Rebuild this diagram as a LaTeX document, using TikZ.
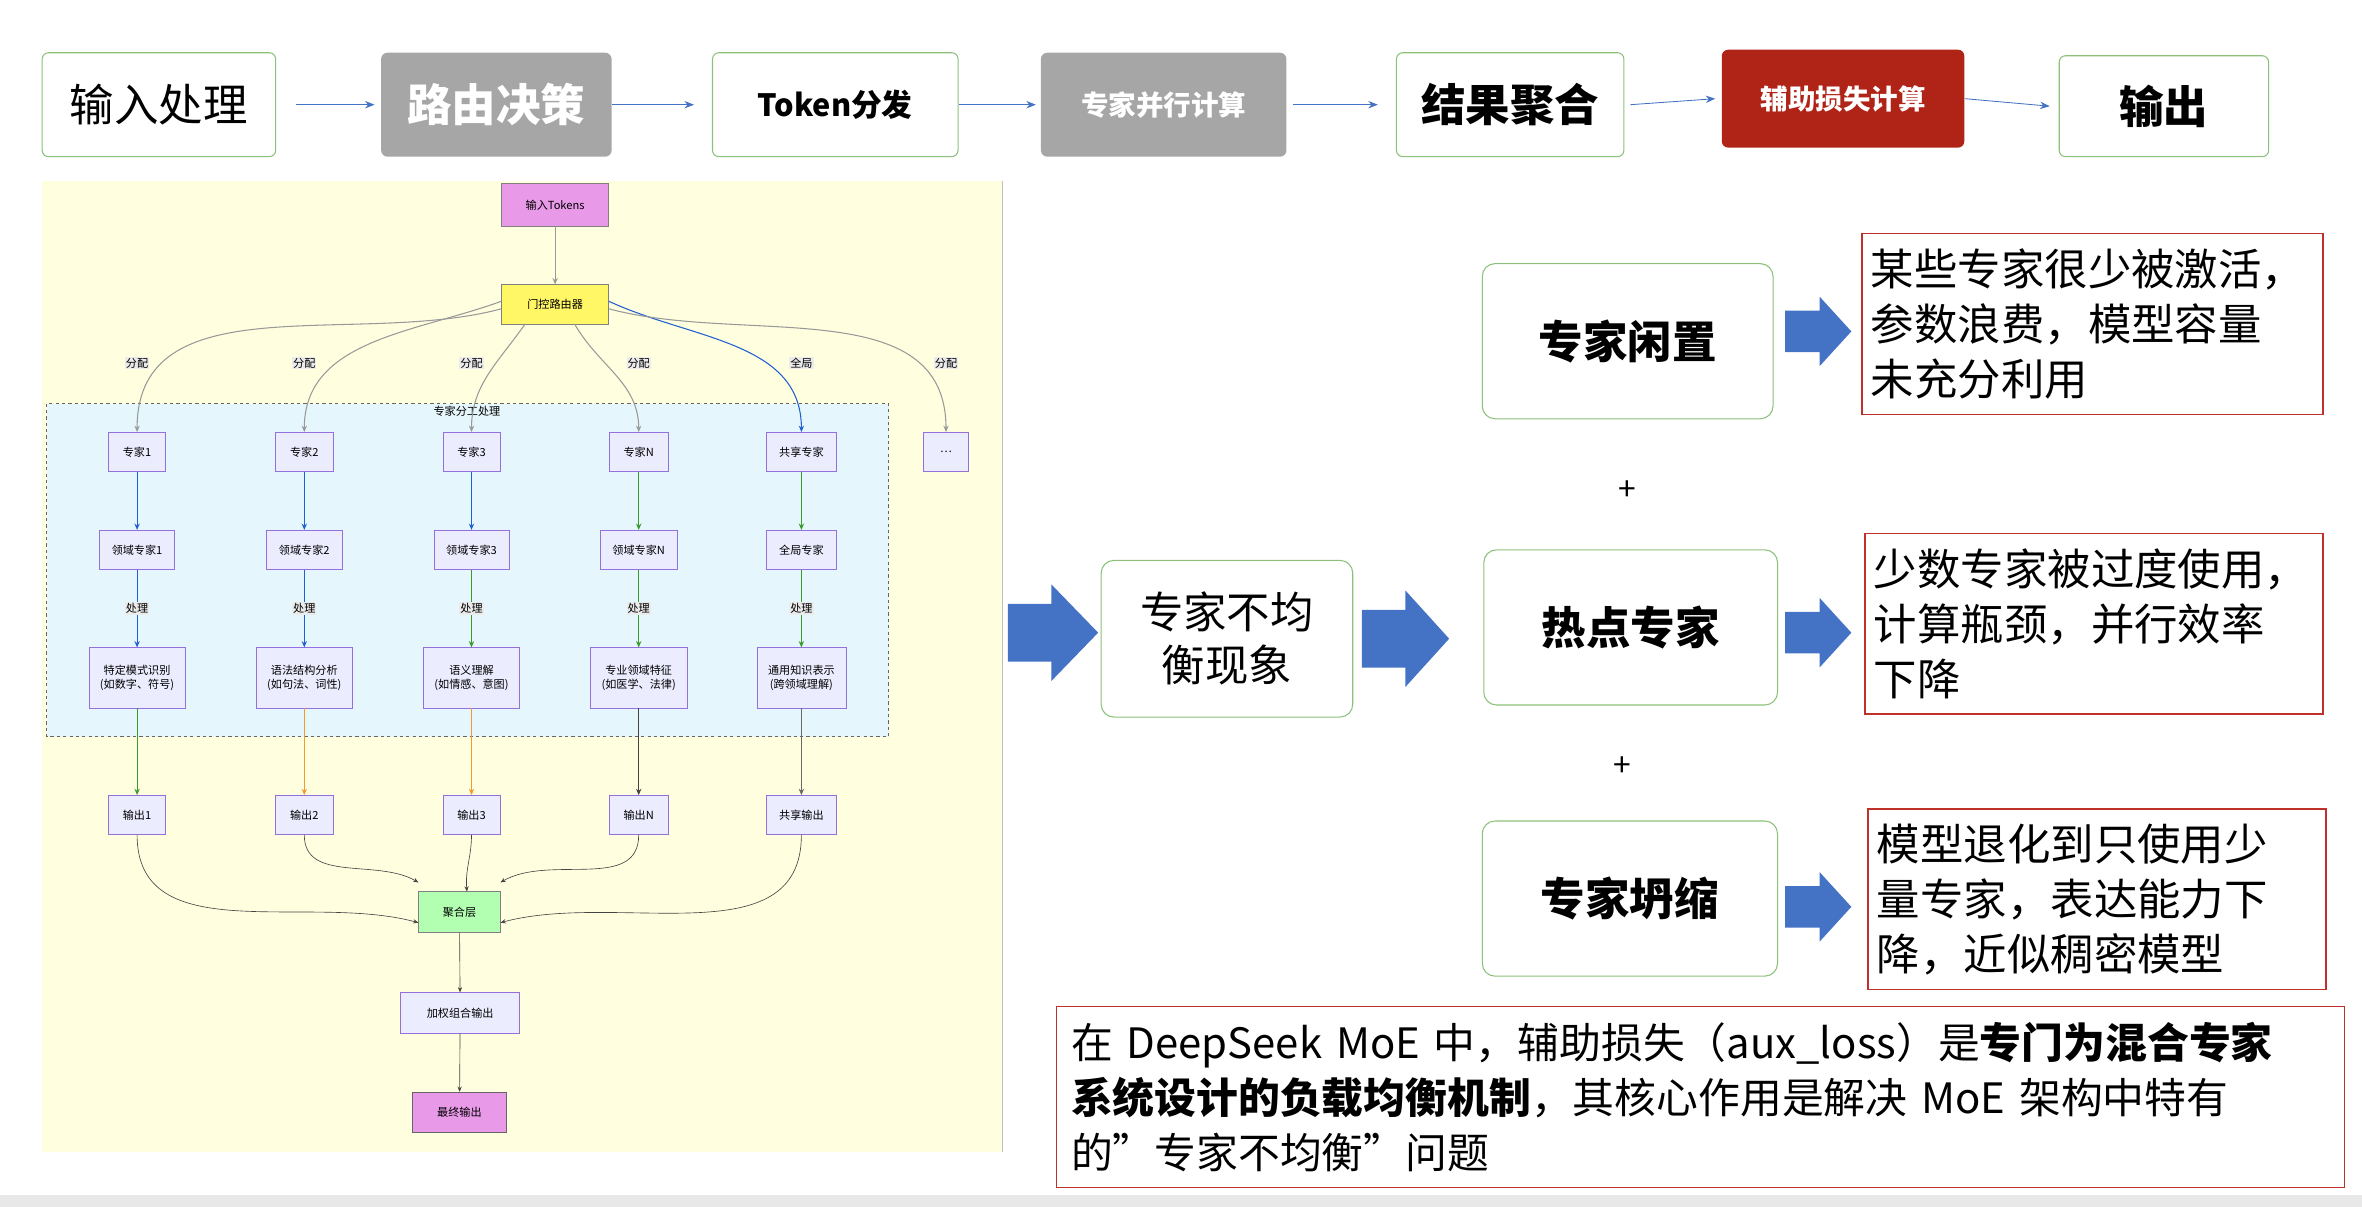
\documentclass[tikz,border=0pt]{standalone}
\usepackage{fontspec}
\setmainfont{Noto Sans CJK SC}
\usetikzlibrary{arrows.meta}
\definecolor{grn}{HTML}{8CC17A}
\definecolor{grayf}{HTML}{A6A6A6}
\definecolor{redf}{HTML}{B02418}
\definecolor{arr}{HTML}{4472C4}
\definecolor{yel}{HTML}{FFFFE0}
\definecolor{clus}{HTML}{E6F6FD}
\definecolor{nfill}{HTML}{ECECFF}
\definecolor{ndraw}{HTML}{9370DB}
\definecolor{eblue}{HTML}{2060D0}
\definecolor{egreen}{HTML}{3A9A2A}
\definecolor{eorange}{HTML}{F29A2E}
\definecolor{egray}{HTML}{999999}
\definecolor{edark}{HTML}{444444}
\definecolor{boxred}{HTML}{C0312B}
\newcommand{\bigarr}[5]{% x0 x1 xhead ycenter halfshaft/halfhead
  \fill[arr] (#1,#4-#5*0.6) -- (#3,#4-#5*0.6) -- (#3,#4-#5) -- (#2,#4) -- (#3,#4+#5) -- (#3,#4+#5*0.6) -- (#1,#4+#5*0.6) -- cycle;}
\begin{document}
\begin{tikzpicture}[x=0.05cm,y=-0.05cm,
  top/.style={draw=grn,line width=1pt,rounded corners=6pt,fill=white,inner sep=0pt},
  topg/.style={top,draw=none,fill=grayf,text=white},
  fn/.style={draw=ndraw,fill=nfill,line width=0.6pt,inner sep=0pt,font=\fontsize{10.5}{14}\selectfont,align=center},
  el/.style={fill=black!8,inner sep=1pt,font=\fontsize{10.5}{12}\selectfont},
  e/.style={line width=1pt,-{Stealth[length=6pt,width=5pt]}},
  tarr/.style={draw=arr,line width=0.8pt,-{Stealth[length=9pt,width=7pt]}},
  mid/.style={draw=grn,line width=1pt,rounded corners=12pt,fill=white,inner sep=0pt,font=\fontsize{42}{48}\selectfont\bfseries},
  rbox/.style={draw=boxred,line width=1.2pt,inner sep=0pt,fill=white,align=left,font=\fontsize{41}{52}\selectfont}]
\useasboundingbox (0,0) rectangle (1568,801);
\fill[black!9] (0,793) rectangle (1568,801);
% top row
\node[top,minimum width=155*0.05cm,minimum height=69*0.05cm,font=\fontsize{42}{42}\selectfont] (t1) at (105.5,69.5) {输入处理};
\node[topg,minimum width=153*0.05cm,minimum height=69*0.05cm,font=\fontsize{42}{42}\selectfont\bfseries] (t2) at (329.5,69.5) {路由决策};
\node[top,minimum width=163*0.05cm,minimum height=69*0.05cm,font=\fontsize{29}{29}\selectfont\bfseries] (t3) at (554.5,69.5) {Token分发};
\node[topg,minimum width=163*0.05cm,minimum height=69*0.05cm,font=\fontsize{26}{26}\selectfont\bfseries] (t4) at (772.5,69.5) {专家并行计算};
\node[top,minimum width=151*0.05cm,minimum height=69*0.05cm,font=\fontsize{42}{42}\selectfont\bfseries] (t5) at (1002.5,69.5) {结果聚合};
\node[topg,fill=redf,minimum width=161*0.05cm,minimum height=65*0.05cm,font=\fontsize{26}{26}\selectfont\bfseries] (t6) at (1223.5,65.5) {辅助损失计算};
\node[top,minimum width=139*0.05cm,minimum height=67*0.05cm,font=\fontsize{42}{42}\selectfont\bfseries] (t7) at (1436.5,70.5) {输出};
\draw[tarr] ([xshift=13*0.05cm]t1.east) -- ([xshift=-4*0.05cm]t2.west);
\draw[tarr] (t2.east) -- ([xshift=-12*0.05cm]t3.west);
\draw[tarr] (t3.east) -- ([xshift=-3*0.05cm]t4.west);
\draw[tarr] ([xshift=4*0.05cm]t4.east) -- ([xshift=-12*0.05cm]t5.west);
\draw[tarr] ([xshift=4*0.05cm]t5.east) -- ([xshift=-4*0.05cm]t6.west);
\draw[tarr] (t6.east) -- ([xshift=-6*0.05cm]t7.west);
% left panel
\fill[yel] (28,120) rectangle (665,765);
\draw[black!25] (665,120) -- (665,765);
\draw[dashed,fill=clus,draw=black!60,line width=0.6pt] (31,268) rectangle (590,489);
\node[font=\fontsize{10.5}{12}\selectfont] (cl) at (310,273) {专家分工处理};
\node[fn,fill=violet!45!magenta!40,draw=black!50,minimum width=71*0.05cm,minimum height=28*0.05cm] (in) at (368.5,136) {输入Tokens};
\node[fn,fill=yellow!60,draw=black!50,minimum width=71*0.05cm,minimum height=26*0.05cm] (gate) at (368.5,202) {门控路由器};
\foreach \n/\x/\t/\w in {e1/91/{专家1}/38,e2/202/{专家2}/38,e3/313/{专家3}/38,eN/424/{专家N}/39,es/532/{共享专家}/47,ed/628/{\ldots}/30}
  \node[fn,minimum width=\w*0.05cm,minimum height=26*0.05cm] (\n) at (\x,300) {\t};
\foreach \n/\x/\t/\w in {d1/91/{领域专家1}/50,d2/202/{领域专家2}/50,d3/313/{领域专家3}/50,dN/424/{领域专家N}/51,ds/532/{全局专家}/47}
  \node[fn,minimum width=\w*0.05cm,minimum height=26*0.05cm] (\n) at (\x,365) {\t};
\foreach \n/\x/\t/\w in {p1/91/{特定模式识别\\(如数字、符号)}/64,p2/202/{语法结构分析\\(如句法、词性)}/64,p3/313/{语义理解\\(如情感、意图)}/64,pN/424/{专业领域特征\\(如医学、法律)}/64,ps/532/{通用知识表示\\(跨领域理解)}/59}
  \node[fn,minimum width=\w*0.05cm,minimum height=40*0.05cm] (\n) at (\x,450) {\t};
\foreach \n/\x/\t/\w in {o1/91/{输出1}/38,o2/202/{输出2}/38,o3/313/{输出3}/38,oN/424/{输出N}/39,os/532/{共享输出}/47}
  \node[fn,minimum width=\w*0.05cm,minimum height=26*0.05cm] (\n) at (\x,541) {\t};
\node[fn,fill=green!30,draw=black!50,minimum width=54*0.05cm,minimum height=27*0.05cm] (agg) at (305,605.5) {聚合层};
\node[fn,minimum width=79*0.05cm,minimum height=27*0.05cm] (wt) at (305.5,672.5) {加权组合输出};
\node[fn,fill=violet!45!magenta!40,draw=black!60,minimum width=62*0.05cm,minimum height=27*0.05cm] (fin) at (305,738.5) {最终输出};
% edges
\draw[e,egray] (in) -- (gate);
\draw[e,egray] ([yshift=-3*0.05cm]gate.west) to[out=195,in=90] (e1.north);
\draw[e,egray] ([yshift=2*0.05cm]gate.west) to[out=200,in=90] (e2.north);
\draw[e,egray] ([xshift=-20*0.05cm]gate.south) to[out=235,in=90] (e3.north);
\draw[e,egray] ([xshift=13*0.05cm]gate.south) to[out=-60,in=90] (eN.north);
\draw[e,eblue] ([yshift=2*0.05cm]gate.east) to[out=-25,in=90] (es.north);
\draw[e,egray] ([yshift=-3*0.05cm]gate.east) to[out=-15,in=90] (ed.north);
\foreach \x/\t in {91/分配,202/分配,313/分配,424/分配,532/全局,628/分配}
  \node[el] (l\x) at (\x,241) {\t};
\draw[e,eblue] (e1) -- (d1); \draw[e,eblue] (e2) -- (d2); \draw[e,eblue] (e3) -- (d3);
\draw[e,egreen] (eN) -- (dN); \draw[e,egreen] (es) -- (ds);
\draw[e,eblue] (d1) -- (p1); \draw[e,eblue] (d2) -- (p2); \draw[e,egreen] (d3) -- (p3);
\draw[e,egreen] (dN) -- (pN); \draw[e,egreen] (ds) -- (ps);
\foreach \x in {91,202,313,424,532}
  \node[el] (h\x) at (\x,404) {处理};
\draw[e,egreen] (p1) -- (o1); \draw[e,eorange] (p2) -- (o2); \draw[e,eorange] (p3) -- (o3);
\draw[e,edark,line width=0.6pt] (pN) -- (oN); \draw[e,edark!80,line width=0.6pt] (ps) -- (os);
\tikzset{ea/.style={line width=0.6pt,draw=edark,-{Stealth[length=5pt,width=4pt]}}}
\draw[ea] (o1.south) to[out=-90,in=165] ([yshift=-7*0.05cm]agg.west);
\draw[ea] (o2.south) to[out=-90,in=150] ([yshift=6*0.05cm]agg.north west);
\draw[ea] (o3.south) to[out=-90,in=95] ([xshift=5*0.05cm]agg.north);
\draw[ea] (oN.south) to[out=-90,in=30] ([yshift=6*0.05cm]agg.north east);
\draw[ea] (os.south) to[out=-90,in=15] ([yshift=-7*0.05cm]agg.east);
\draw[ea] (agg) -- (wt); \draw[ea] (wt) -- (fin);
% right part
\bigarr{669}{729}{698}{420}{32}
\node[mid,minimum width=167*0.05cm,minimum height=104*0.05cm,font=\fontsize{41}{50}\selectfont,align=center] (m) at (814.5,424) {专家不均\\衡现象};
\bigarr{904}{962}{933}{424}{32}
\node[mid,minimum width=193*0.05cm,minimum height=103*0.05cm] (s1) at (1080.5,226.5) {专家闲置};
\node[mid,minimum width=195*0.05cm,minimum height=103*0.05cm] (s2) at (1082.5,416.5) {热点专家};
\node[mid,minimum width=196*0.05cm,minimum height=103*0.05cm] (s3) at (1082,596.5) {专家坍缩};
\node[font=\fontsize{30}{30}\selectfont] (pl1) at (1080,326) {+};
\node[font=\fontsize{30}{30}\selectfont] (pl2) at (1077,509) {+};
\bigarr{1185}{1229}{1208}{220}{23}
\bigarr{1185}{1229}{1208}{420}{23}
\bigarr{1185}{1229}{1208}{602}{23}
\node[rbox,minimum width=306*0.05cm,minimum height=120*0.05cm,text width=294*0.05cm] (r1) at (1389,215) {某些专家很少被激活，\\参数浪费，模型容量\\未充分利用};
\node[rbox,minimum width=304*0.05cm,minimum height=120*0.05cm,text width=292*0.05cm] (r2) at (1390,414) {少数专家被过度使用，\\计算瓶颈，并行效率\\下降};
\node[rbox,minimum width=304*0.05cm,minimum height=120*0.05cm,text width=292*0.05cm] (r3) at (1392,597) {模型退化到只使用少\\量专家，表达能力下\\降，近似稠密模型};
\node[draw=boxred,line width=0.8pt,minimum width=855*0.05cm,minimum height=120*0.05cm,inner sep=0pt,text width=835*0.05cm,align=left,font=\fontsize{39.5}{52}\selectfont] (bt) at (1128.5,728) {在 DeepSeek MoE 中，辅助损失（aux\_loss）是\textbf{专门为混合专家}\\\textbf{系统设计的负载均衡机制}，其核心作用是解决 MoE 架构中特有\\的\char34专家不均衡\char34问题};
\end{tikzpicture}
\end{document}
